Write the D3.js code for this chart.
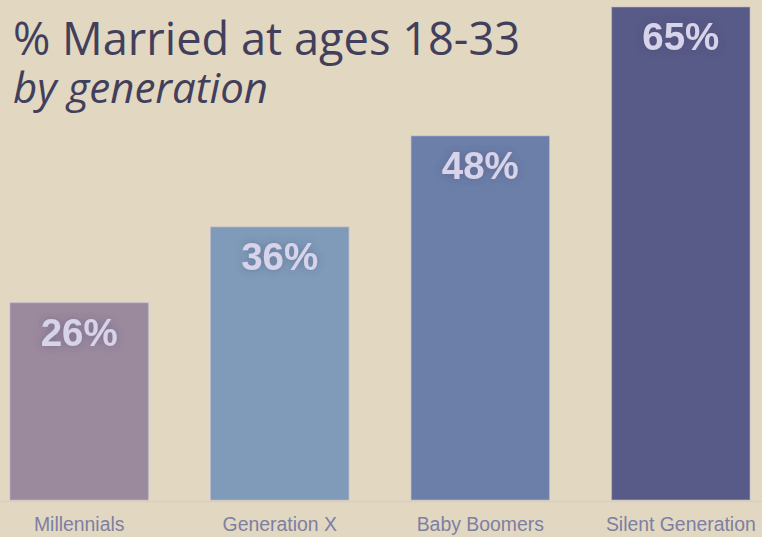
<!DOCTYPE html>
<html>
<head>
<meta charset="utf-8">
<script src="https://cdn.jsdelivr.net/npm/d3@7"></script>
<style>
  body { margin: 0; background: #e2d7c0; }
  svg { display: block; }
</style>
</head>
<body>
<svg width="762" height="537"></svg>
<script>
const generations = ['Millennials', 'Generation X', 'Baby Boomers', 'Silent Generation'];
const married = [26, 36, 48, 65];
const barColors = ['#9b8a9e', '#7f9bb9', '#6c7fa9', '#585a87'];

const svg = d3.select('svg');

const x = d3.scaleBand().domain(generations).range([10, 750]).paddingInner(0.31);
const y = d3.scaleLinear().domain([0, 65]).range([500, 7]);

// glow for value labels
const defs = svg.append('defs');
const glow = defs.append('filter').attr('id', 'glow')
    .attr('x', '-30%').attr('y', '-50%').attr('width', '160%').attr('height', '200%');
glow.append('feGaussianBlur').attr('in', 'SourceAlpha').attr('stdDeviation', 4).attr('result', 'b');
glow.append('feFlood').attr('flood-color', '#3f3d66').attr('flood-opacity', 0.4);
glow.append('feComposite').attr('in2', 'b').attr('operator', 'in').attr('result', 's');
const m = glow.append('feMerge');
m.append('feMergeNode').attr('in', 's');
m.append('feMergeNode').attr('in', 'SourceGraphic');

// baseline
svg.append('line')
    .attr('x1', 0).attr('x2', 762)
    .attr('y1', y(0) + 1.5).attr('y2', y(0) + 1.5)
    .attr('stroke', '#d8cfbe').attr('stroke-width', 1.5);

const data = generations.map((g, i) => ({g, v: married[i], c: barColors[i]}));

svg.selectAll('rect.bar')
    .data(data)
    .join('rect')
    .attr('class', 'bar')
    .attr('x', d => x(d.g))
    .attr('y', d => y(d.v))
    .attr('width', x.bandwidth())
    .attr('height', d => y(0) - y(d.v))
    .attr('fill', d => d.c)
    .attr('stroke', '#b8b7d4')
    .attr('stroke-opacity', 0.6)
    .attr('stroke-width', 1);

svg.selectAll('text.val')
    .data(data)
    .join('text')
    .attr('class', 'val')
    .attr('x', d => x(d.g) + x.bandwidth() / 2)
    .attr('y', d => y(d.v) + 43)
    .attr('text-anchor', 'middle')
    .attr('font-family', 'Liberation Sans, Arial, sans-serif')
    .attr('font-weight', 'bold')
    .attr('font-size', 38.5)
    .attr('fill', '#d7d3ea')
    .attr('filter', 'url(#glow)')
    .text(d => d.v + '%');

// category axis
const xAxis = svg.append('g')
    .attr('transform', `translate(0,${y(0)})`)
    .call(d3.axisBottom(x).tickSize(0));
xAxis.select('.domain').remove();
xAxis.selectAll('text')
    .attr('y', 31)
    .attr('dy', 0)
    .attr('font-family', 'Liberation Sans, Arial, sans-serif')
    .attr('font-size', 19.4)
    .attr('fill', '#7c80a3');

svg.append('text')
    .attr('x', 13).attr('y', 55)
    .attr('font-family', 'Open Sans, sans-serif')
    .attr('font-size', 45.2)
    .attr('fill', '#413f5c')
    .text('% Married at ages 18-33');

svg.append('text')
    .attr('x', 13).attr('y', 103)
    .attr('font-family', 'Open Sans, sans-serif')
    .attr('font-style', 'italic')
    .attr('font-size', 42)
    .attr('fill', '#413f5c')
    .text('by generation');
</script>
</body>
</html>
